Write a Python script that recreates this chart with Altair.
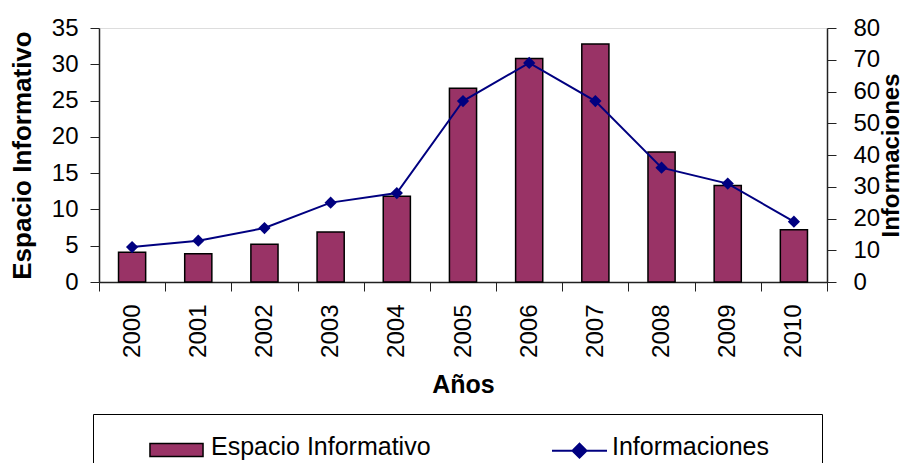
import altair as alt
import pandas as pd

years = ["2000", "2001", "2002", "2003", "2004", "2005", "2006", "2007", "2008", "2009", "2010"]
espacio = [4.1, 3.9, 5.2, 6.9, 11.8, 26.7, 30.8, 32.8, 17.9, 13.3, 7.2]
informaciones = [11, 13, 17, 25, 28, 57, 69, 57, 36, 31, 19]
series_names = ["Espacio Informativo", "Informaciones"]

left_ticks = [0, 5, 10, 15, 20, 25, 30, 35]
right_ticks = [0, 10, 20, 30, 40, 50, 60, 70, 80]

df = pd.DataFrame({"year": years, "espacio": espacio, "info": informaciones,
                   "s1": series_names[0], "s2": series_names[1]})

FONT = "Liberation Sans"
BAR = "#993366"
NAVY = "#000080"

axis_common = dict(
    grid=False, domainColor="#222222", domainWidth=1.5, tickColor="#222222", tickWidth=1,
    labelColor="black", titleColor="black", labelFont=FONT, titleFont=FONT,
    labelFontSize=24, titleFontWeight="bold", tickSize=9,
)

x_enc = alt.X(
    "year:N",
    scale=alt.Scale(paddingInner=0, paddingOuter=0),
    axis=alt.Axis(title="Años", labelAngle=-90, tickBand="extent", titleFontSize=25,
                  titlePadding=15, labelPadding=13, **axis_common),
)

bar_shape = "M-3.79,-0.43L3.79,-0.43L3.79,1.43L-3.79,1.43ZM88.8,0.5"
line_shape = "M-3.93,0.6L3.93,0.6M0,-0.4L1,0.6L0,1.6L-1,0.6Z"

bars = alt.Chart(df).mark_bar(
    width=alt.RelativeBandSize(0.41), stroke="black", strokeWidth=1.5
).encode(
    x=x_enc,
    y=alt.Y("espacio:Q", scale=alt.Scale(domain=[0, 35], nice=False),
            axis=alt.Axis(title="Espacio Informativo", values=left_ticks, titlePadding=16,
                          titleFontSize=26, labelPadding=12, **axis_common)),
    fill=alt.Fill(
        "s1:N",
        scale=alt.Scale(range=[BAR]),
        legend=alt.Legend(
            title=None, orient="none", legendX=-6, legendY=386, padding=20,
            strokeColor="black", symbolType=bar_shape, symbolSize=196,
            symbolOffset=51, labelOffset=22, labelFont=FONT, labelFontSize=25,
            labelColor="black", labelLimit=400, symbolStrokeColor="black", symbolStrokeWidth=1.5,
        ),
    ),
)

right_axis = alt.Axis(title="Informaciones", orient="right", values=right_ticks, titleAngle=-90,
                      titlePadding=24, titleFontSize=24, labelPadding=17, **axis_common)
y_right = alt.Y("info:Q", scale=alt.Scale(domain=[0, 80], nice=False), axis=right_axis)

line = alt.Chart(df).mark_line(color=NAVY, strokeWidth=2).encode(x=x_enc, y=y_right)
points = alt.Chart(df).mark_point(shape="diamond", filled=True, size=150, opacity=1).encode(
    x=x_enc,
    y=y_right,
    color=alt.Color(
        "s2:N",
        scale=alt.Scale(range=[NAVY]),
        legend=alt.Legend(
            title=None, orient="none", legendX=468, legendY=406, padding=0,
            symbolType=line_shape, symbolSize=196, symbolOffset=0, labelOffset=20,
            labelFont=FONT, labelFontSize=25, labelColor="black", labelLimit=400,
            symbolStrokeColor=NAVY, symbolStrokeWidth=2,
        ),
    ),
)

chart = alt.layer(bars, alt.layer(line, points)).resolve_scale(
    y="independent", fill="independent", color="independent"
).properties(
    width=728, height=254,
    autosize=alt.AutoSizeParams(type="none"),
    padding={"left": 91, "top": 20, "right": 78, "bottom": 181},
).configure_view(stroke="#999999", strokeWidth=1).configure(font=FONT)

chart.save("out.html", embed_options={"renderer": "svg", "actions": False})
